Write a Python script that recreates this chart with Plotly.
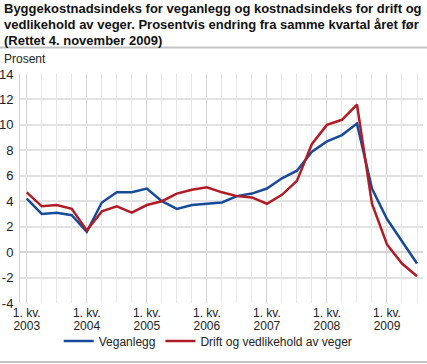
import plotly.graph_objects as go

quarters = list(range(27))  # 2003 Q1 .. 2009 Q3
year_tick_pos = [0, 4, 8, 12, 16, 20, 24]
quarter_tick_text = ["1. kv."] * 7
year_tick_text = ["2003", "2004", "2005", "2006", "2007", "2008", "2009"]
y_tick_vals = [-4, -2, 0, 2, 4, 6, 8, 10, 12, 14]
y_tick_text = ["-4", "-2", "0", "2", "4", "6", "8", "10", "12", "14"]

veganlegg = [4.2, 3.0, 3.1, 2.9, 1.6, 3.9, 4.7, 4.7, 5.0, 4.0, 3.4, 3.7, 3.8, 3.9,
             4.4, 4.6, 5.0, 5.8, 6.4, 7.9, 8.7, 9.2, 10.1, 5.0, 2.6, 0.9, -0.9]
drift = [4.7, 3.6, 3.7, 3.4, 1.7, 3.2, 3.6, 3.1, 3.7, 4.0, 4.6, 4.9, 5.1, 4.7,
         4.4, 4.3, 3.8, 4.5, 5.6, 8.5, 10.0, 10.4, 11.6, 3.8, 0.6, -0.9, -1.9]

title_lines = ["Byggekostnadsindeks for veganlegg og kostnadsindeks for drift og",
               "vedlikehold av veger. Prosentvis endring fra samme kvartal året før",
               "(Rettet 4. november 2009)"]

FONT = "Liberation Sans, Arial, sans-serif"

fig = go.Figure()
fig.add_trace(go.Scatter(x=quarters, y=veganlegg, mode="lines", name="Veganlegg",
                         line=dict(color="#174a98", width=2.5)))
fig.add_trace(go.Scatter(x=quarters, y=drift, mode="lines", name="Drift og vedlikehold av veger",
                         line=dict(color="#b01c26", width=2.5)))

fig.update_layout(
    width=427, height=364,
    margin=dict(l=20, r=4, t=74, b=61, autoexpand=False),
    paper_bgcolor="white", plot_bgcolor="white",
    font=dict(family=FONT, size=12, color="#222"),
    showlegend=True,
    legend=dict(orientation="h", x=0.467, xanchor="center", xref="paper",
                y=-0.166, yanchor="middle", font=dict(size=12, color="#222"),
                bgcolor="rgba(0,0,0,0)"),
    xaxis2=dict(overlaying="x", matches="x", side="bottom",
                tickmode="array", tickvals=year_tick_pos, ticktext=year_tick_text,
                tickangle=0, showgrid=False, zeroline=False, showline=False, ticks="",
                ticklabelstandoff=14, automargin=False, fixedrange=True,
                tickfont=dict(size=12, color="#222")),
)

fig.layout.xaxis.update(
    range=[-0.45, 26.4],
    tickmode="array", tickvals=year_tick_pos, ticktext=quarter_tick_text, tickangle=0,
    showgrid=True, gridcolor="#d4d4d4", gridwidth=1,
    minor=dict(dtick=1, tick0=0, showgrid=True, gridcolor="#e6e6e6", gridwidth=1),
    showline=False, zeroline=False, ticks="", fixedrange=True, automargin=False,
    ticklabelstandoff=1,
    tickfont=dict(size=12, color="#222"),
)
fig.update_yaxes(
    range=[-4, 14], tickmode="array", tickvals=y_tick_vals, ticktext=y_tick_text,
    showgrid=True, gridcolor="#e2e2e2", gridwidth=2,
    zeroline=True, zerolinecolor="#d6d6d6", zerolinewidth=2,
    showline=True, linecolor="#d0d0d0", linewidth=1,
    ticks="", ticklabelstandoff=3, automargin=False, fixedrange=True,
    tickfont=dict(size=13, color="#222"),
)

# invisible trace to activate the year-label axis
fig.add_trace(go.Scatter(x=[year_tick_pos[0]], y=[None], xaxis="x2", yaxis="y",
                         showlegend=False, hoverinfo="skip", mode="lines"))

# title as left-aligned annotation lines
for i, line in enumerate(title_lines):
    fig.add_annotation(text="<b>" + line + "</b>", xref="paper", yref="paper",
                       x=-0.045, y=(303 - (9 + 15.5 * i)) / 229, xanchor="left", yanchor="middle",
                       showarrow=False, font=dict(family=FONT, size=13, color="#111"))

# top and bottom separator lines
fig.add_shape(type="line", xref="paper", yref="paper", x0=-0.06, x1=1.02,
              y0=1.1157, y1=1.1157, line=dict(color="#c4c4c4", width=2))
fig.add_shape(type="line", xref="paper", yref="paper", x0=-0.06, x1=1.02,
              y0=-0.2576, y1=-0.2576, line=dict(color="#c4c4c4", width=2))

fig.add_annotation(text="Prosent", xref="paper", yref="paper", x=-0.045, y=1.065,
                   xanchor="left", yanchor="middle", showarrow=False,
                   font=dict(size=12, color="#222"))

fig.write_html("out.html", config={"displayModeBar": False},
               post_script="document.body.style.margin='0';document.body.style.overflow='hidden';")
